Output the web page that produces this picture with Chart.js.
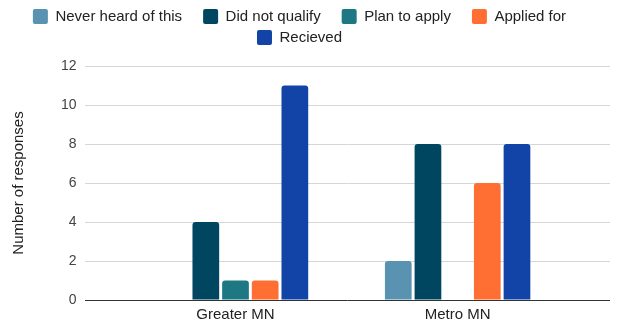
<!DOCTYPE html>
<html>
<head>
<meta charset="utf-8">
<script src="https://cdn.jsdelivr.net/npm/chart.js@4/dist/chart.umd.min.js"></script>
<style>
  html, body { margin: 0; padding: 0; background: #fff; }
  #wrap { position: relative; width: 618px; height: 324px; }
</style>
</head>
<body>
<div id="wrap"><canvas id="chart"></canvas></div>
<script>
    var regions = ['Greater MN', 'Metro MN'];
    var regionPos = [1, 2];

    var seriesNames = ['Never heard of this', 'Did not qualify', 'Plan to apply', 'Applied for', 'Recieved'];
    var seriesColors = ['#5a93b1', '#004660', '#1e7884', '#ff6f33', '#1244a8'];

    var neverHeard = [0, 2];
    var didNotQualify = [4, 8];
    var planToApply = [1, 0];
    var appliedFor = [1, 6];
    var received = [11, 8];

    var yTicks = [0, 2, 4, 6, 8, 10, 12];

    var seriesValues = [neverHeard, didNotQualify, planToApply, appliedFor, received];

    function points(values) {
        return values.map(function (v, i) {
            return { x: regionPos[i], y: v };
        });
    }

    var datasets = seriesNames.map(function (name, i) {
        return {
            label: name,
            data: points(seriesValues[i]),
            backgroundColor: seriesColors[i],
            borderRadius: 3,
            borderSkipped: 'bottom',
            categoryPercentage: 0.668,
            barPercentage: 0.9
        };
    });

    var font = '"Liberation Sans", Arial, sans-serif';

    // extra space between the legend and the plot
    var legendGap = {
        id: 'legendGap',
        afterInit: function (chart) {
            var fit = chart.legend.fit;
            chart.legend.fit = function () {
                fit.call(chart.legend);
                this.height += 11;
            };
        }
    };

    new Chart(document.getElementById('chart'), {
        type: 'bar',
        data: { datasets: datasets },
        plugins: [legendGap],
        options: {
            responsive: true,
            maintainAspectRatio: false,
            animation: false,
            layout: { padding: { left: 4, right: 8, top: 3, bottom: -6 } },
            plugins: {
                tooltip: { enabled: false },
                legend: {
                    position: 'top',
                    labels: {
                        boxWidth: 15,
                        boxHeight: 15,
                        padding: 6,
                        color: '#222',
                        useBorderRadius: true,
                        borderRadius: 2,
                        font: { family: font, size: 15 },
                        // em space after each name keeps the wider gap between entries
                        generateLabels: function (chart) {
                            var items = Chart.defaults.plugins.legend.labels.generateLabels(chart);
                            items.forEach(function (item) { item.text = item.text + '\u2003'; });
                            return items;
                        }
                    }
                }
            },
            scales: {
                x: {
                    type: 'linear',
                    min: 0.3205,
                    max: 2.686,
                    offset: false,
                    grid: { display: false, drawTicks: false },
                    border: { display: false },
                    afterBuildTicks: function (axis) {
                        axis.ticks = regionPos.map(function (p) { return { value: p }; });
                    },
                    ticks: {
                        padding: 6,
                        color: '#222',
                        font: { family: font, size: 15 },
                        callback: function (value) {
                            return regions[regionPos.indexOf(value)];
                        }
                    }
                },
                y: {
                    min: 0,
                    max: 12,
                    afterBuildTicks: function (axis) {
                        axis.ticks = yTicks.map(function (t) { return { value: t }; });
                    },
                    grid: {
                        drawTicks: false,
                        lineWidth: 1,
                        color: function (ctx) {
                            return ctx.tick && ctx.tick.value === 0 ? '#333' : '#d6d6d6';
                        }
                    },
                    border: { display: false },
                    ticks: {
                        padding: 8,
                        color: '#444',
                        font: { family: font, size: 14 }
                    },
                    title: {
                        display: true,
                        text: 'Number of responses',
                        color: '#222',
                        padding: { top: 6, bottom: 25 },
                        font: { family: font, size: 15 }
                    }
                }
            }
        }
    });
</script>
</body>
</html>
